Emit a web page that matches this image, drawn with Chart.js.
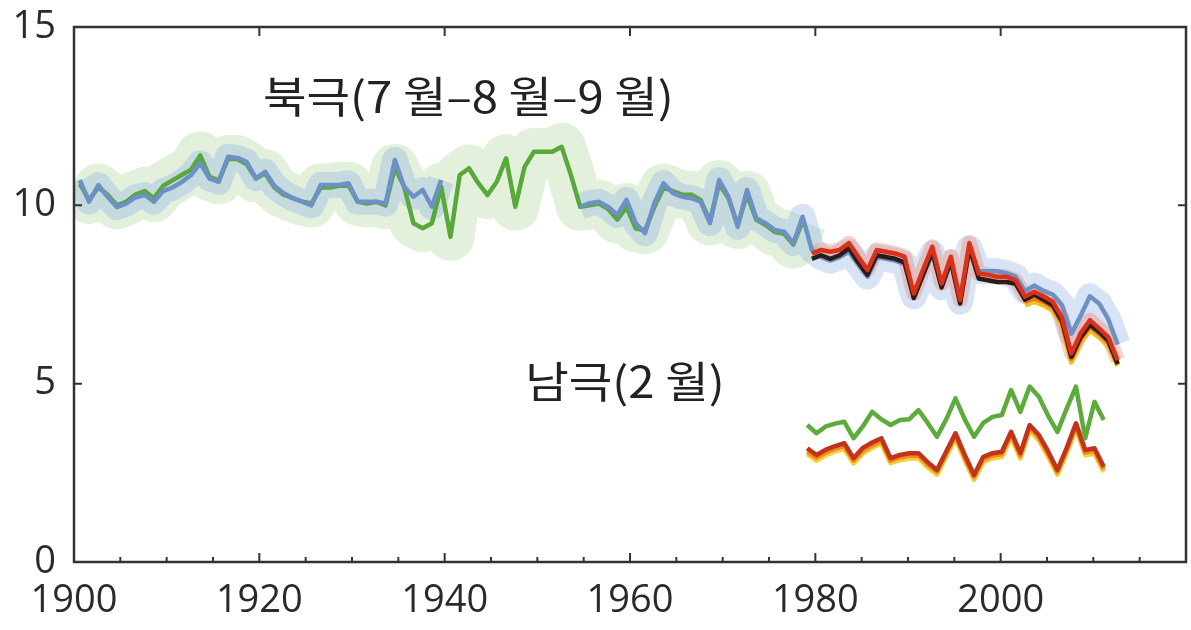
<!DOCTYPE html>
<html><head><meta charset="utf-8">
<script src="https://cdn.jsdelivr.net/npm/chart.js@4.4.1/dist/chart.umd.min.js"></script>
<style>html,body{margin:0;padding:0;background:#fff}#wrap{width:1191px;height:630px;position:relative}</style>
</head><body><div id="wrap"><canvas id="c" width="1191" height="630"></canvas></div>
<script>
// ---- data (sea-ice extent, million km^2) ----
// Arctic July-Aug-Sep mean, plotted at mid-season (mid-August); Antarctic February, plotted mid-February
const ARCTIC_SEASON_MID = 0.625;
const ANTARCTIC_SEASON_MID = 0.125;

const arcticBlueStart = 1900; // 1900-2012, gap 1940-1953
const arcticBlue = [
 10.71,10.1,10.57,10.24,9.95,10.05,10.22,10.29,10.1,10.4,
 10.5,10.65,10.85,11.18,10.75,10.66,11.36,11.33,11.22,10.76,
 10.94,10.55,10.34,10.2,10.1,10.0,10.57,10.57,10.57,10.62,
 10.1,10.1,10.1,10.05,11.27,10.52,10.24,10.43,9.96,10.71,
 null,null,null,null,null,null,null,null,null,null,null,null,null,null,
 9.96,10.06,10.1,9.96,9.73,10.15,
 9.5,9.22,10.06,10.62,10.34,10.24,10.2,10.1,9.5,10.71,
 10.24,9.4,10.43,9.64,9.5,9.31,9.26,8.94,9.68,8.75,
 8.55,8.45,8.55,8.7,8.35,8.0,8.55,8.5,8.45,8.35,
 7.45,8.05,8.65,7.7,8.4,7.3,8.8,8.15,8.15,8.15,
 8.1,8.0,7.6,7.75,7.6,7.5,7.2,6.4,6.9,7.45,
 7.25,6.8,6.1
];
const arcticGreenStart = 1900; // 1900-1978
const arcticGreen = [
 10.6,10.15,10.5,10.3,10.0,10.1,10.3,10.4,10.2,10.55,
 10.7,10.85,11.0,11.4,10.8,10.7,11.3,11.3,11.15,10.75,
 10.9,10.5,10.3,10.2,10.1,10.05,10.5,10.5,10.55,10.55,
 10.1,10.05,10.1,10.0,11.05,10.52,9.5,9.36,9.5,10.52,
 9.12,10.85,11.04,10.62,10.29,10.66,11.32,9.96,11.08,11.5,
 11.5,11.5,11.64,10.85,9.96,10.0,10.05,9.9,9.6,9.95,
 9.35,9.3,9.95,10.5,10.4,10.3,10.3,10.15,9.55,10.6,
 10.2,9.45,10.3,9.6,9.45,9.25,9.2,8.9,9.55
];
const satStart = 1979; // 1979-2012
const satRed = [
 8.65,8.75,8.7,8.75,8.94,8.56,8.19,8.75,8.7,8.65,
 8.56,7.53,8.19,8.84,7.81,8.56,7.35,8.94,8.09,8.05,
 8.0,8.0,7.9,7.44,7.58,7.45,7.3,6.85,5.85,6.41,
 6.78,6.55,6.3,5.66
];
const satBlack = [
 8.5,8.6,8.5,8.6,8.8,8.4,8.05,8.6,8.55,8.5,
 8.4,7.4,8.05,8.7,7.7,8.45,7.25,8.8,7.95,7.9,
 7.85,7.85,7.8,7.35,7.5,7.35,7.2,6.75,5.75,6.3,
 6.65,6.45,6.2,5.55
];
const satColourStart = 2002; // 2002-2012
const satOrange = [7.3,7.4,7.3,7.15,6.7,5.7,6.25,6.6,6.4,6.15,5.55];
const satYellow = [7.2,7.3,7.2,7.05,6.6,5.6,6.15,6.5,6.3,6.05,5.5];

const antStart = 1979; // 1979-2011
const antGreen = [
 3.84,3.61,3.8,3.88,3.93,3.47,3.8,4.21,4.0,3.84,
 3.98,4.0,4.26,3.9,3.51,4.0,4.59,4.0,3.51,3.9,
 4.07,4.12,4.82,4.21,4.92,4.63,4.1,3.65,4.3,4.92,
 3.47,4.49,3.98
];
const antRed = [
 3.19,3.0,3.15,3.25,3.33,2.91,3.2,3.35,3.47,2.91,
 3.0,3.05,3.05,2.8,2.58,3.1,3.61,3.0,2.44,2.95,
 3.05,3.09,3.65,3.05,3.84,3.56,3.1,2.58,3.2,3.89,
 3.14,3.19,2.67
];
const antOrange = [
 3.1,2.92,3.07,3.17,3.25,2.84,3.12,3.27,3.4,2.84,
 2.93,2.98,2.98,2.73,2.52,3.03,3.54,2.93,2.38,2.88,
 2.98,3.02,3.58,2.98,3.77,3.49,3.03,2.52,3.13,3.82,
 3.07,3.12,2.6
];
const antYellow = [
 3.03,2.85,3.0,3.1,3.18,2.77,3.05,3.2,3.33,2.78,
 2.86,2.91,2.91,2.66,2.45,2.96,3.48,2.86,2.31,2.81,
 2.91,2.95,3.51,2.91,3.7,3.42,2.96,2.45,3.06,3.75,
 3.0,3.05,2.53
];

const xTickValues = [1900,1920,1940,1960,1980,2000];
const yTickValues = [0,5,10,15];
const annotations = [
 {text:'북극(7 월–8 월–9 월)', year:1920.4, value:13.04},
 {text:'남극(2 월)', year:1948.7, value:5.05}
];

// ---- helpers ----
function pts(start, vals, mid){ return vals.map((v,i)=>({x:start+i+mid, y:v})); }
function line(data, color, width, order, extra){
  return Object.assign({data, borderColor:color, backgroundColor:color, borderWidth:width,
    pointRadius:0, tension:0, fill:false, spanGaps:false, order,
    borderJoinStyle:'round', borderCapStyle:'butt'}, extra||{});
}

const A = ARCTIC_SEASON_MID, S = ANTARCTIC_SEASON_MID;
const datasets = [
  line(pts(arcticGreenStart, arcticGreen, A), 'rgba(160,205,140,0.30)', 48, 30),
  line(pts(arcticBlueStart, arcticBlue, A), 'rgba(140,175,230,0.34)', 26, 29),
  line(pts(satStart, satRed, A), 'rgba(240,120,90,0.33)', 15, 28),
  line(pts(arcticGreenStart, arcticGreen, A), '#58a83a', 4.5, 20),
  line(pts(arcticBlueStart, arcticBlue, A), '#6d90c6', 4.5, 19),
  line(pts(satColourStart, satYellow, A), '#f2c21a', 5, 15),
  line(pts(satColourStart, satOrange, A), '#f07a1e', 5, 14),
  line(pts(satStart, satBlack, A), '#2b1c1c', 4.5, 13),
  line(pts(satStart, satRed, A), '#dc3119', 4.5, 12),
  line(pts(antStart, antYellow, S), '#f6d22e', 5, 9),
  line(pts(antStart, antOrange, S), '#ee8a2a', 4.5, 8),
  line(pts(antStart, antRed, S), '#c0341c', 4.5, 7),
  line(pts(antStart, antGreen, S), '#5dab3b', 4.5, 6)
];

const framePlugin = {
  id:'frame',
  afterDatasetsDraw(chart){
    const {ctx, chartArea:a, scales:{x,y}} = chart;
    ctx.save();
    ctx.strokeStyle = '#333'; ctx.lineWidth = 2.5;
    ctx.strokeRect(a.left, a.top, a.right-a.left, a.bottom-a.top);
    ctx.lineWidth = 2;
    ctx.beginPath();
    for (let v = x.min + 5; v < x.max; v += 5){
      const px = x.getPixelForValue(v);
      const major = (v % 20 === 0);
      ctx.moveTo(px, a.bottom); ctx.lineTo(px, a.bottom - (major ? 9 : 5));
      if (major){ ctx.moveTo(px, a.top); ctx.lineTo(px, a.top + 9); }
    }
    for (let v = y.min + 5; v < y.max; v += 5){
      const py = y.getPixelForValue(v);
      ctx.moveTo(a.left, py); ctx.lineTo(a.left + 8, py);
      ctx.moveTo(a.right, py); ctx.lineTo(a.right - 8, py);
    }
    ctx.stroke();
    ctx.restore();
  },
  afterDraw(chart){
    const {ctx, scales:{x,y}} = chart;
    ctx.save();
    ctx.fillStyle = '#222';
    ctx.font = '43px "Noto Sans CJK KR", "Noto Sans", sans-serif';
    ctx.textAlign = 'left'; ctx.textBaseline = 'middle';
    annotations.forEach(t => {
      const px = x.getPixelForValue(t.year), py = y.getPixelForValue(t.value);
      ctx.save();
      ctx.translate(px, py);
      ctx.scale(1.1, 1);
      ctx.fillText(t.text, 0, 0);
      ctx.restore();
    });
    ctx.restore();
  }
};

const tickFont = {family:'"Open Sans", sans-serif', size:38, weight:'500'};
new Chart(document.getElementById('c'), {
  type:'line',
  data:{datasets},
  plugins:[framePlugin],
  options:{
    responsive:false, animation:false, devicePixelRatio:1,
    layout:{padding:{left:0, right:5, top:27, bottom:0}},
    plugins:{legend:{display:false}, tooltip:{enabled:false}},
    scales:{
      x:{type:'linear', min:1900, max:2020,
         afterBuildTicks:s=>{ s.ticks = xTickValues.map(v=>({value:v})); },
         afterFit:s=>{ s.height = 68; s.paddingLeft = 0; s.paddingRight = 0; },
         ticks:{font:tickFont, color:'#2a2a2a', padding:16, maxRotation:0, autoSkip:false, callback:v=>String(v)},
         grid:{display:false, drawTicks:false}, border:{display:false}},
      y:{type:'linear', min:0, max:15,
         afterBuildTicks:s=>{ s.ticks = yTickValues.map(v=>({value:v})); },
         afterFit:s=>{ s.width = 74; s.paddingTop = 0; s.paddingBottom = 0; },
         ticks:{font:tickFont, color:'#2a2a2a', padding:18, callback:v=>String(v)},
         grid:{display:false, drawTicks:false}, border:{display:false}}
    }
  }
});
</script></body></html>
